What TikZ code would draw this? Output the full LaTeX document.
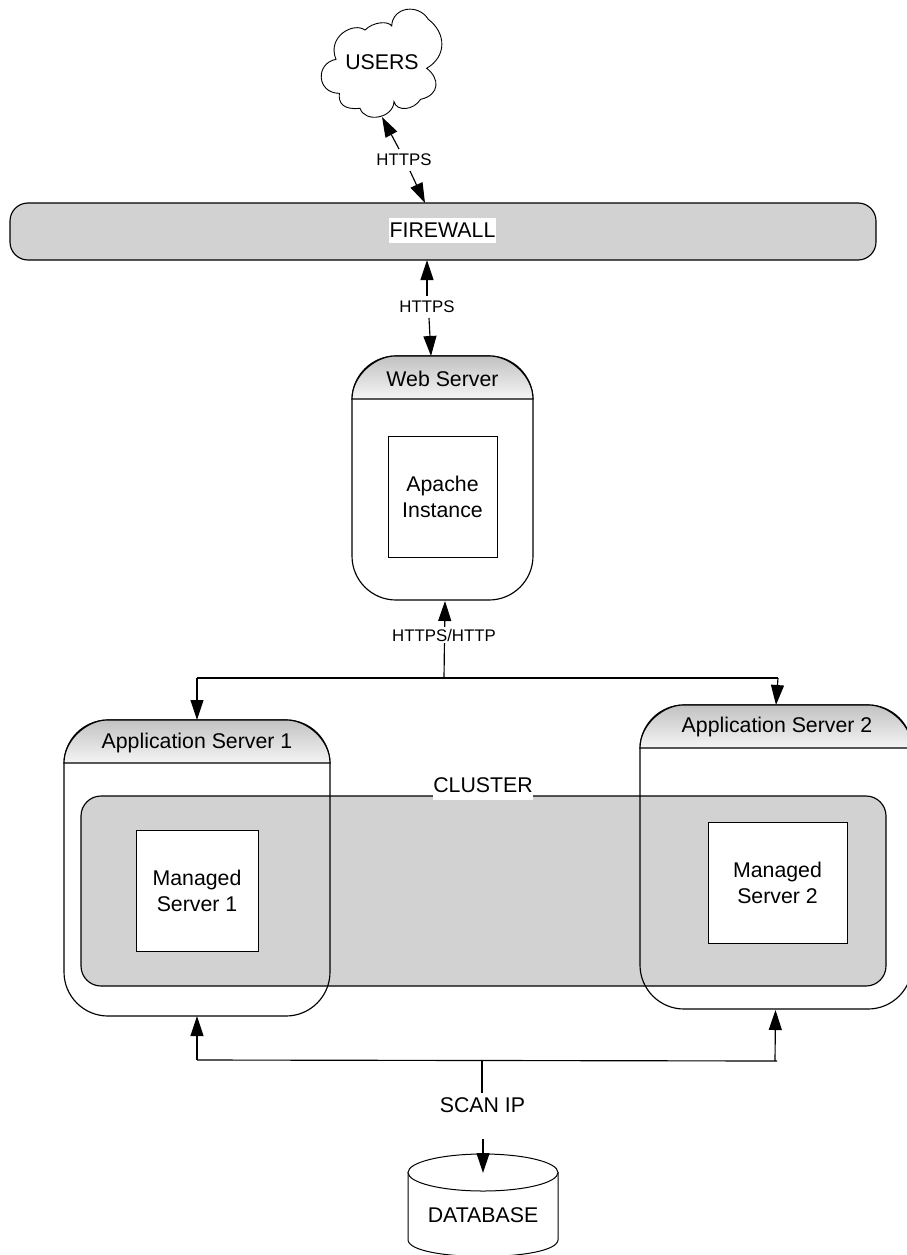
\documentclass[tikz,border=0pt]{standalone}
\usepackage{fontspec}
\setmainfont{Liberation Sans}
\usetikzlibrary{arrows.meta}
\definecolor{panel}{HTML}{D2D2D2}
\tikzset{
  line/.style={line width=1.15pt,black},
  conn/.style={line,-{Triangle[length=20pt,width=13pt]}},
  shapebox/.style={line,anchor=north west,inner sep=0pt,outer sep=0pt},
  server/.style={shapebox,fill=white,rounded corners=44pt},
  inner/.style={shapebox,line width=0.8pt,fill=white,draw,align=center,font=\fontsize{21.3}{26}\selectfont},
  panelbox/.style={shapebox,draw,fill=panel},
  head/.style={font=\fontsize{21.3}{25}\selectfont},
  lab/.style={font=\fontsize{16.8}{20}\selectfont,fill=white,inner sep=2pt,outer sep=0pt},
  whitepatch/.style={fill=white,inner sep=0pt,outer sep=0pt},
}
% #1 name, #2 x1, #3 y1, #4 x2, #5 y2 of header line, #6 title
\newcommand{\headerband}[6]{%
  \path[top color=black!24,bottom color=black!4]
    (#2,#5) .. controls (#2,#3+19) and (#2+24,#3) .. (#2+43,#3) -- (#4-43,#3)
    .. controls (#4-24,#3) and (#4,#3+19) .. (#4,#5) -- cycle;
  \draw[line]
    (#2,#5) .. controls (#2,#3+19) and (#2+24,#3) .. (#2+43,#3) -- (#4-43,#3)
    .. controls (#4-24,#3) and (#4,#3+19) .. (#4,#5) -- cycle;
  \node[head] (#1) at ({(#2+#4)/2},{(#3+#5)/2+1}) {#6};
}
\begin{document}
\begin{tikzpicture}[x=1pt,y=-1pt]
\useasboundingbox (0,0) rectangle (907,1255);
\clip (0,0) rectangle (907,1255);
\fill[white] (0,0) rectangle (907,1255);

% Cloud
\begin{scope}[shift={(300,0)},x=0.3333pt,y=-0.3333pt]
\draw[line,line width=0.9pt,fill=white] (108,178)
  .. controls (80,110) and (160,65) .. (195,90)
  .. controls (220,65) and (265,62) .. (275,78)
  .. controls (278,20) and (355,10) .. (385,58)
  .. controls (440,100) and (440,170) .. (380,205)
  .. controls (420,235) and (420,285) .. (362,298)
  .. controls (340,332) and (290,335) .. (282,305)
  .. controls (280,355) and (195,370) .. (180,325)
  .. controls (130,330) and (115,310) .. (118,280)
  .. controls (50,280) and (45,190) .. (108,178) -- cycle;
\end{scope}
\node[head] (users) at (382,62) {USERS};

% Firewall
\node[panelbox,rounded corners=18pt,minimum width=866pt,minimum height=57pt] (firewall) at (10,203) {};
\node[whitepatch,head,minimum width=107pt,minimum height=25pt] (fwlabel) at (442.5,230.5) {FIREWALL};

% Web server
\node[server,draw,minimum width=181pt,minimum height=244pt] (webbox) at (352,356) {};
\headerband{webtitle}{352}{356}{533}{399}{Web Server}
\node[inner,minimum width=109pt,minimum height=121pt] (apache) at (388,436) {Apache\\Instance};

% Application servers: white bodies, then the cluster, then their outlines
\node[server,minimum width=266pt,minimum height=296pt] (app1) at (64,720) {};
\node[server,minimum width=272pt,minimum height=304pt] (app2) at (640,705) {};
\node[panelbox,rounded corners=20pt,minimum width=805pt,minimum height=190pt] (cluster) at (81,796) {};
\draw[line,rounded corners=44pt] (app1.north west) rectangle (app1.south east);
\draw[line,rounded corners=44pt] (app2.north west) rectangle (app2.south east);
\headerband{app1title}{64}{720}{330}{763}{Application Server 1}
\headerband{app2title}{640}{705}{912}{748}{}
\node[head] (app2text) at (777,727) {Application Server 2};
\node[whitepatch,minimum width=100pt,minimum height=25pt] (clusterpatch) at (483,787) {};
\node[head] (clusterlabel) at (483,785) {CLUSTER};
\node[inner,minimum width=122pt,minimum height=121pt] (ms1) at (136,830) {Managed\\Server 1};
\node[inner,minimum width=139pt,minimum height=121pt] (ms2) at (708,822) {Managed\\Server 2};

% Database
\draw[line,line width=1pt,fill=white] (408,1172) -- (408,1240)
  .. controls (410,1262) and (556,1262) .. (558,1240) -- (558,1172);
\draw[line,line width=1pt,fill=white] (483,1172.5) ellipse [x radius=75,y radius=18.5];
\node[head] (database) at (483,1215) {DATABASE};

% Labels
\node[lab] (l1) at (404,160) {HTTPS};
\node[lab] (l2) at (427,307) {HTTPS};
\node[head] (scantext) at (482.5,1105) {SCAN IP};

% Connector ends
\coordinate (cUsers) at (382,117);
\coordinate (cL1a) at (399,149);
\coordinate (cL1b) at (410,171);
\coordinate (cFwTop) at (425,203);
\coordinate (cFwBot) at (427,260);
\coordinate (cL2a) at (427,296);
\coordinate (cL2b) at (429,318);
\coordinate (cWebTop) at (431,356);
\coordinate (cWebBot) at (445,601);
\coordinate (cJoin) at (444,678);
\coordinate (cLeft) at (197,678);
\coordinate (cRight) at (778,678);
\coordinate (cApp1Top) at (197,720);
\coordinate (cApp2Top) at (776,705);
\coordinate (cApp1Bot) at (197,1016);
\coordinate (cApp2Bot) at (775.5,1010);
\coordinate (cBusL) at (197,1060);
\coordinate (cBusR) at (777,1061);
\coordinate (cBusR2) at (775,1061);
\coordinate (cBusM) at (482,1060.5);
\coordinate (cScanTop) at (482,1093);
\coordinate (cScanBot) at (483,1139);
\coordinate (cDb) at (483,1173);

% Connectors
\draw[conn] (cL1a) -- (cUsers);
\draw[conn] (cL1b) -- (cFwTop);
\draw[conn] (cL2a) -- (cFwBot);
\draw[conn] (cL2b) -- (cWebTop);
\draw[conn] (cJoin) -- (cWebBot);
\draw[line] (cLeft) -- (cRight);
\draw[conn] (cLeft) -- (cApp1Top);
\draw[conn] (cRight) -- (cApp2Top);
\draw[line] (cBusL) -- (cBusR);
\draw[conn] (cBusL) -- (cApp1Bot);
\draw[conn] (cBusR2) -- (cApp2Bot);
\draw[line] (cBusM) -- (cScanTop);
\draw[conn] (cScanBot) -- (cDb);
\node[lab] (l3) at (444,635) {HTTPS/HTTP};
\end{tikzpicture}
\end{document}
